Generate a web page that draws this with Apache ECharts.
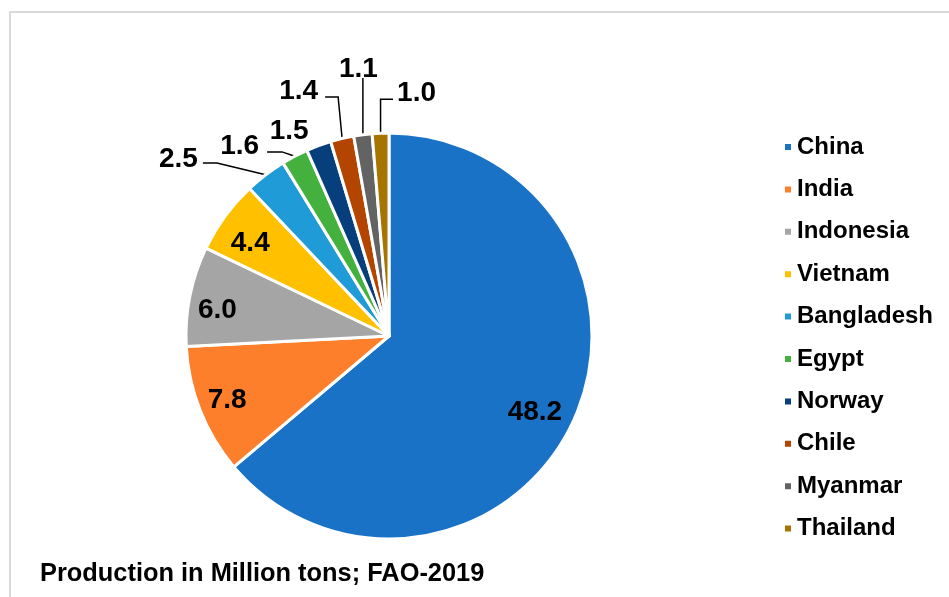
<!DOCTYPE html>
<html>
<head>
<meta charset="utf-8">
<script src="https://cdn.jsdelivr.net/npm/echarts@6/dist/echarts.min.js"></script>
<style>
html,body{margin:0;padding:0;background:#fff;}
#chart{width:949px;height:597px;}
</style>
</head>
<body>
<div id="chart"></div>
<script>
// ---- data ----
var categories = ['China','India','Indonesia','Vietnam','Bangladesh','Egypt','Norway','Chile','Myanmar','Thailand'];
var production = [48.2, 7.8, 6.0, 4.4, 2.5, 1.6, 1.5, 1.4, 1.1, 1.0];
var titleText = 'Production in Million tons; FAO-2019';

// ---- style ----
var colors = ['#1972C6','#FE7F2B','#A5A5A5','#FFC000','#1F9BD7','#44B03E','#063F7C','#B44500','#636363','#A67400'];
var FONT = '"Liberation Sans", Arial, sans-serif';
var CX = 389, CY = 336, R = 203;
// leader-line geometry offsets (relative to the slice's outer edge point) for outside labels
var leader = {
  'Bangladesh': {bend:[-48.7,-11.7], end:[-62.7,-11.7], lab:[-5,-4], align:'right'},
  'Egypt':      {bend:[-12.7,-4.3],  end:[-27.7,-4.3],  lab:[-8,-6], align:'right'},
  'Norway':     {bend:[0,0],         end:[0,0],         lab:[-10,-14.5], align:'right', noLine:true},
  'Chile':      {bend:[-4,-41.5],    end:[-17,-41.5],   lab:[-7,-6], align:'right'},
  'Myanmar':    {bend:[0,-56.7],     end:[0,-56.7],     lab:[-4.5,-9], align:'center'},
  'Thailand':   {bend:[0,-34],       end:[12.5,-34],    lab:[4,-6], align:'left'}
};
var insideOffset = {'China':[-11,3], 'India':[-1,1], 'Indonesia':[-2,8], 'Vietnam':[1,9]};

var labelFont = {fontFamily: FONT, fontWeight:'bold', fontSize:28, color:'#000'};

var mainData = categories.map(function(name, i){
  var lf = leader[name];
  return {
    name: name,
    value: production[i],
    itemStyle: {color: colors[i]},
    label: {show: !!lf},
    labelLine: {show: !!lf && !lf.noLine}
  };
});
var overlayData = categories.map(function(name, i){
  var inside = !leader[name];
  return {
    name: name,
    value: production[i],
    label: {show: inside, offset: insideOffset[name] || [0,0]}
  };
});

var chart = echarts.init(document.getElementById('chart'));
chart.setOption({
  backgroundColor: '#fff',
  animation: false,
  graphic: [{
    type: 'rect', silent: true,
    shape: {x: 10, y: 12, width: 1000, height: 700},
    style: {fill: 'none', stroke: '#d9d9d9', lineWidth: 2}
  }],
  title: {
    text: titleText,
    left: 40, top: 561, padding: 0,
    textStyle: {fontFamily: FONT, fontWeight: 'bold', fontSize: 25.4, color: '#000'}
  },
  legend: {
    data: categories,
    orient: 'vertical',
    left: 783, top: 134, padding: 0,
    icon: 'rect',
    itemWidth: 8, itemHeight: 8,
    itemGap: 16.4,
    textStyle: {fontFamily: FONT, fontWeight: 'bold', fontSize: 24, color: '#000', lineHeight: 26}
  },
  series: [{
    type: 'pie',
    center: [CX, CY],
    radius: [0, R],
    startAngle: 90,
    clockwise: true,
    avoidLabelOverlap: false,
    itemStyle: {borderColor: '#fff', borderWidth: 3},
    label: Object.assign({
      position: 'outside',
      formatter: function(p){ return p.value.toFixed(1); }
    }, labelFont),
    labelLine: {length: 20, length2: 10, smooth: false, lineStyle: {color: '#000', width: 1.5}},
    labelLayout: function(params){
      var name = categories[params.dataIndex];
      var lf = leader[name];
      if (!lf || !params.labelLinePoints) return {};
      var p0 = params.labelLinePoints[0];
      var b = [p0[0] + lf.bend[0], p0[1] + lf.bend[1]];
      var e = [p0[0] + lf.end[0], p0[1] + lf.end[1]];
      return {
        x: e[0] + lf.lab[0],
        y: e[1] + lf.lab[1],
        align: lf.align,
        verticalAlign: 'middle',
        labelLinePoints: [[p0[0], p0[1]], b, e]
      };
    },
    data: mainData
  }, {
    type: 'pie',
    center: [CX, CY],
    radius: [137, R],
    startAngle: 90,
    clockwise: true,
    silent: true,
    legendHoverLink: false,
    itemStyle: {color: 'rgba(0,0,0,0)', borderWidth: 0},
    label: Object.assign({
      position: 'inside',
      formatter: function(p){ return p.value.toFixed(1); }
    }, labelFont),
    labelLine: {show: false},
    emphasis: {disabled: true},
    data: overlayData
  }]
});
</script>
</body>
</html>
